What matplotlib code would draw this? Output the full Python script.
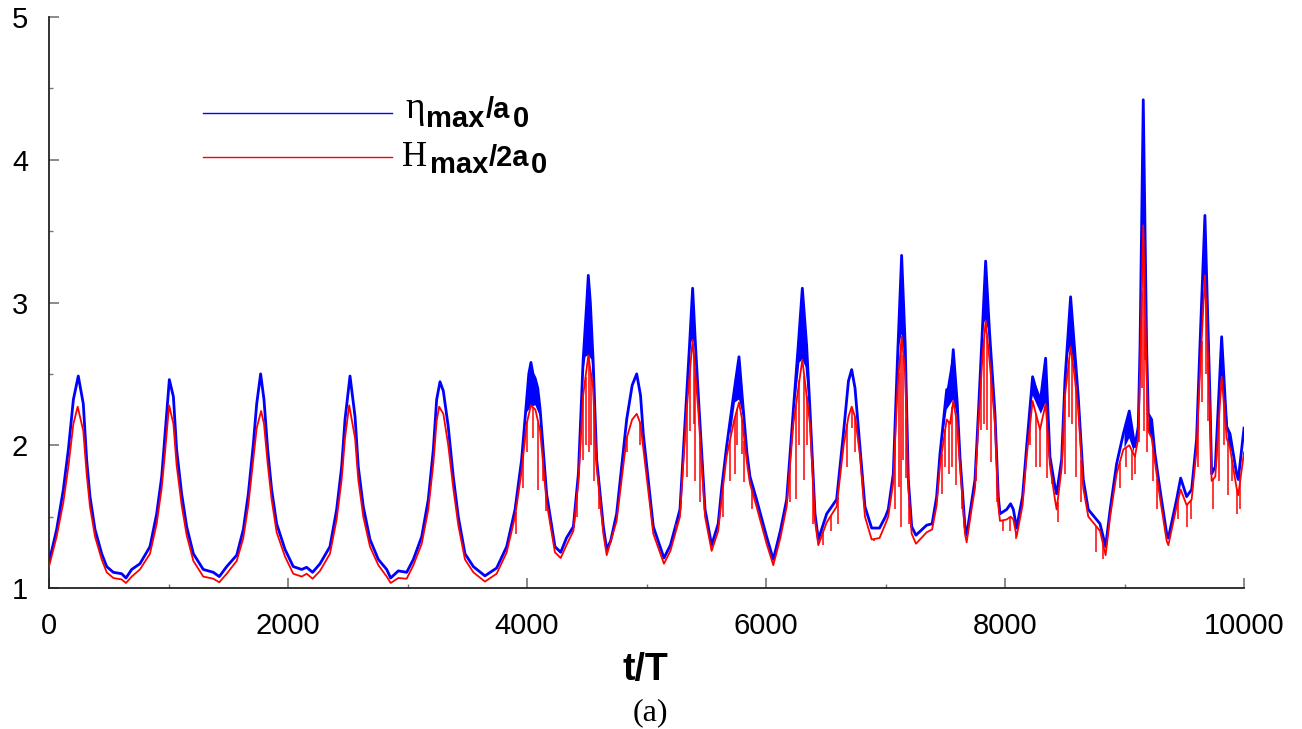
import numpy as np
import matplotlib
matplotlib.use("Agg")
import matplotlib.pyplot as plt
from matplotlib.ticker import MultipleLocator

plt.rcParams['font.family'] = ['Liberation Sans', 'DejaVu Sans']

# eta_max / a0 (upper envelope of the blue curve)
blue_t = [0, 64, 120, 162, 204, 245, 287, 315, 343, 385, 441, 483, 538, 608, 644, 692, 761, 845, 901, 943,
          971, 1007, 1041, 1068, 1110, 1152, 1208, 1291, 1375, 1425, 1487, 1571, 1626, 1668, 1710, 1738, 1771,
          1799, 1830, 1863, 1905, 1975, 2044, 2115, 2156, 2206, 2268, 2351, 2407, 2449, 2477, 2519, 2561, 2588,
          2630, 2686, 2756, 2826, 2859, 2923, 2993, 3049, 3119, 3174, 3216, 3244, 3272, 3300, 3341, 3383, 3425,
          3481, 3551, 3648, 3746, 3830, 3900, 3955, 3990, 4015, 4033, 4050, 4068, 4090, 4110, 4164, 4234, 4282,
          4330, 4388, 4430, 4470, 4500, 4513, 4530, 4553, 4583, 4639, 4667, 4700, 4750, 4834, 4880, 4918, 4950,
          4973, 5057, 5146, 5200, 5280, 5336, 5360, 5386, 5410, 5433, 5490, 5545, 5600, 5628, 5670, 5735, 5774,
          5800, 5840, 5866, 5921, 6005, 6061, 6120, 6173, 6229, 6270, 6304, 6340, 6368, 6410, 6438, 6508, 6591,
          6650, 6690, 6717, 6745, 6786, 6828, 6884, 6950, 7000, 7023, 7065, 7100, 7135, 7165, 7191, 7219, 7255,
          7344, 7390, 7428, 7456, 7512, 7540, 7567, 7600, 7623, 7665, 7679, 7720, 7749, 7777, 7810, 7838, 7870,
          7916, 7944, 7958, 8014, 8047, 8070, 8097, 8147, 8181, 8231, 8293, 8340, 8376, 8418, 8432, 8474, 8502,
          8549, 8580, 8613, 8655, 8697, 8795, 8842, 8880, 8934, 8990, 9040, 9087, 9115, 9130, 9157, 9185, 9199,
          9227, 9255, 9297, 9353, 9367, 9436, 9470, 9520, 9562, 9603, 9631, 9673, 9715, 9729, 9760, 9813, 9855,
          9883, 9938, 9952, 10000]
blue_y = [1.18, 1.41, 1.69, 1.97, 2.32, 2.485, 2.29, 1.90, 1.64, 1.41, 1.24, 1.15, 1.11, 1.10, 1.07, 1.13, 1.17,
          1.29, 1.52, 1.78, 2.08, 2.46, 2.34, 1.97, 1.66, 1.43, 1.24, 1.13, 1.11, 1.08, 1.15, 1.23, 1.41, 1.66,
          2.01, 2.29, 2.50, 2.32, 1.97, 1.69, 1.45, 1.27, 1.15, 1.13, 1.145, 1.11, 1.17, 1.29, 1.55, 1.85, 2.18,
          2.485, 2.20, 1.85, 1.57, 1.34, 1.20, 1.13, 1.07, 1.12, 1.11, 1.20, 1.36, 1.62, 1.97, 2.32, 2.445, 2.38,
          2.13, 1.78, 1.50, 1.24, 1.15, 1.085, 1.14, 1.29, 1.55, 1.90, 2.25, 2.50, 2.58, 2.50, 2.47, 2.40, 2.25,
          1.66, 1.29, 1.25, 1.35, 1.43, 1.80, 2.60, 3.00, 3.19, 3.00, 2.60, 1.90, 1.43, 1.27, 1.33, 1.52, 2.18,
          2.42, 2.50, 2.35, 2.08, 1.43, 1.21, 1.30, 1.55, 2.36, 2.70, 3.10, 2.70, 2.36, 1.55, 1.30, 1.45, 1.69,
          1.99, 2.39, 2.62, 2.35, 1.95, 1.78, 1.62, 1.36, 1.20, 1.40, 1.62, 2.25, 2.70, 3.10, 2.70, 2.25, 1.52,
          1.34, 1.52, 1.62, 2.10, 2.45, 2.53, 2.40, 1.99, 1.57, 1.42, 1.42, 1.50, 1.55, 1.80, 2.60, 3.33, 2.70,
          1.76, 1.43, 1.37, 1.44, 1.45, 1.64, 1.94, 2.39, 2.35, 2.67, 2.30, 1.92, 1.43, 1.37, 1.60, 1.76, 2.22,
          2.80, 3.29, 2.80, 2.22, 1.64, 1.52, 1.55, 1.59, 1.55, 1.42, 1.64, 1.99, 2.48, 2.29, 2.61, 1.92, 1.71,
          1.66, 1.90, 2.46, 3.04, 2.70, 2.34, 1.76, 1.55, 1.45, 1.29, 1.55, 1.87, 2.08, 2.24, 1.99, 2.13, 2.69,
          4.42, 2.69, 2.22, 2.18, 1.94, 1.69, 1.38, 1.35, 1.62, 1.77, 1.64, 1.69, 2.04, 2.69, 3.61, 2.34, 1.80,
          1.85, 2.76, 2.13, 2.08, 1.80, 1.76, 2.12]

# lower edge of the dense blue oscillation near the peaks (nan = no band)
band_t = [3990, 4033, 4070, 4110, 4200,
          4460, 4490, 4513, 4540, 4560, 4600,
          5345, 5370, 5386, 5405, 5425, 5500,
          5700, 5740, 5774, 5810, 5840, 5900,
          6245, 6280, 6304, 6330, 6360, 6400,
          7080, 7115, 7135, 7160, 7185, 7300,
          7470, 7512, 7567, 7600, 7620, 7700,
          7790, 7820, 7838, 7860, 7900, 8000,
          8200, 8231, 8300, 8340, 8370, 8450,
          8505, 8530, 8549, 8570, 8600, 8700,
          9000, 9040, 9080, 9100,
          9135, 9150, 9157, 9170, 9185, 9205, 9227, 9250, 9400,
          9640, 9660, 9673, 9690, 9712, 9770,
          9790, 9813, 9840, 9870, 9900]
band_lo = [2.22, 2.27, 2.28, 2.20, np.nan,
           2.45, 2.62, 2.63, 2.60, 2.40, np.nan,
           2.35, 2.72, 2.74, 2.70, 2.38, np.nan,
           2.05, 2.30, 2.32, 2.20, 1.90, np.nan,
           2.30, 2.58, 2.60, 2.55, 2.28, np.nan,
           2.00, 2.70, 2.78, 2.60, 1.85, np.nan,
           2.00, 2.25, 2.32, 2.20, 1.95, np.nan,
           2.40, 2.85, 2.88, 2.80, 2.35, np.nan,
           2.15, 2.35, 2.22, 2.30, 2.00, np.nan,
           2.40, 2.65, 2.69, 2.60, 2.38, np.nan,
           1.98, 2.05, 1.95, np.nan,
           2.70, 3.45, 3.51, 3.30, 2.70, 2.10, 2.05, 1.90, np.nan,
           2.70, 3.15, 3.19, 2.90, 2.30, np.nan,
           2.40, 2.48, 2.30, 2.00, 1.95]

# H_max / 2a0 (upper envelope of the red curve)
red_t = [0, 64, 120, 162, 204, 240, 287, 315, 343, 385, 441, 483, 538, 608, 644, 692, 761, 845, 901, 943,
         971, 1005, 1041, 1068, 1110, 1152, 1208, 1291, 1375, 1425, 1487, 1571, 1626, 1668, 1710, 1738, 1775,
         1799, 1830, 1863, 1905, 1975, 2044, 2115, 2156, 2206, 2268, 2351, 2407, 2449, 2477, 2512, 2561, 2588,
         2630, 2686, 2756, 2826, 2859, 2923, 2993, 3049, 3119, 3174, 3216, 3244, 3265, 3300, 3341, 3383, 3425,
         3481, 3551, 3648, 3746, 3830, 3900, 3955, 3997, 4033, 4070, 4110, 4164, 4234, 4282, 4330, 4388, 4430,
         4470, 4513, 4553, 4583, 4639, 4667, 4750, 4834, 4880, 4918, 4950, 4973, 5057, 5146, 5200, 5280, 5336,
         5386, 5433, 5490, 5545, 5600, 5628, 5670, 5735, 5774, 5800, 5840, 5866, 5921, 6005, 6061, 6120, 6173,
         6229, 6304, 6368, 6410, 6438, 6508, 6591, 6650, 6690, 6717, 6745, 6786, 6828, 6884, 6950, 7000, 7023,
         7065, 7100, 7135, 7165, 7191, 7219, 7255, 7344, 7390, 7428, 7456, 7512, 7540, 7567, 7600, 7623, 7665,
         7679, 7720, 7749, 7777, 7810, 7838, 7870, 7916, 7944, 7958, 8014, 8047, 8070, 8097, 8147, 8181, 8231,
         8293, 8340, 8376, 8418, 8432, 8474, 8502, 8549, 8580, 8613, 8655, 8697, 8795, 8842, 8880, 8934, 8990,
         9040, 9087, 9115, 9130, 9157, 9185, 9199, 9227, 9255, 9297, 9353, 9367, 9436, 9470, 9520, 9562, 9603,
         9631, 9673, 9715, 9729, 9760, 9813, 9855, 9883, 9938, 9952, 10000]
red_y = [1.15, 1.36, 1.60, 1.85, 2.15, 2.27, 2.10, 1.80, 1.57, 1.36, 1.20, 1.11, 1.07, 1.06, 1.035, 1.08, 1.13,
         1.24, 1.45, 1.70, 1.95, 2.28, 2.15, 1.86, 1.58, 1.37, 1.19, 1.08, 1.065, 1.04, 1.10, 1.19, 1.35, 1.58,
         1.90, 2.12, 2.24, 2.15, 1.87, 1.62, 1.39, 1.22, 1.10, 1.08, 1.10, 1.065, 1.12, 1.24, 1.48, 1.76, 2.05,
         2.28, 2.05, 1.76, 1.50, 1.29, 1.16, 1.08, 1.035, 1.07, 1.065, 1.16, 1.31, 1.55, 1.87, 2.17, 2.27, 2.22,
         2.00, 1.70, 1.44, 1.20, 1.11, 1.045, 1.10, 1.25, 1.50, 1.82, 2.15, 2.28, 2.25, 2.10, 1.60, 1.25, 1.21,
         1.30, 1.40, 1.74, 2.35, 2.63, 2.40, 1.85, 1.38, 1.23, 1.47, 2.05, 2.18, 2.22, 2.15, 1.98, 1.38, 1.17,
         1.26, 1.50, 2.25, 2.74, 2.25, 1.50, 1.26, 1.40, 1.62, 1.92, 2.18, 2.30, 2.18, 1.88, 1.73, 1.57, 1.31,
         1.16, 1.35, 1.57, 2.15, 2.60, 2.15, 1.47, 1.30, 1.46, 1.57, 2.00, 2.20, 2.27, 2.20, 1.93, 1.50, 1.34,
         1.35, 1.45, 1.50, 1.74, 2.40, 2.76, 2.50, 1.70, 1.38, 1.31, 1.39, 1.41, 1.58, 1.86, 2.18, 2.15, 2.31,
         2.15, 1.86, 1.38, 1.32, 1.55, 1.70, 2.15, 2.60, 2.87, 2.60, 2.15, 1.58, 1.47, 1.48, 1.50, 1.48, 1.36,
         1.58, 1.92, 2.31, 2.11, 2.29, 1.86, 1.62, 1.55, 1.84, 2.35, 2.69, 2.50, 2.25, 1.70, 1.50, 1.40, 1.23,
         1.50, 1.80, 1.97, 2.00, 1.92, 2.05, 2.50, 3.54, 2.50, 2.10, 2.05, 1.88, 1.63, 1.33, 1.30, 1.57, 1.69,
         1.58, 1.62, 1.97, 2.50, 3.19, 2.25, 1.75, 1.78, 2.48, 2.05, 1.98, 1.70, 1.65, 1.95]

# downward spikes of the red curve: time and tip value
spike_t = [3905, 3970, 4003, 4050, 4095, 4130, 4159, 4193,
           4420, 4470, 4490, 4515, 4535, 4560, 4600,
           4840, 4945,
           5250, 5340, 5365, 5395, 5410, 5450,
           5640, 5700, 5740, 5760, 5800, 5820, 5880,
           6200, 6250, 6280, 6320, 6340, 6390, 6480, 6540, 6600,
           6680, 6720, 6745, 6800, 6900, 6960,
           7080, 7110, 7130, 7150, 7175, 7200,
           7470, 7500, 7530, 7560, 7590, 7640,
           7760, 7800, 7825, 7850, 7880, 7930, 7980, 8040, 8090,
           8160, 8210, 8260, 8290, 8350, 8390, 8440,
           8500, 8535, 8560, 8590, 8640, 8760, 8820,
           8960, 9010, 9060, 9090,
           9120, 9145, 9165, 9175, 9190, 9240, 9275,
           9450, 9520, 9560,
           9615, 9645, 9680, 9700, 9740,
           9790, 9830, 9870, 9900, 9940, 9970]
spike_lo = [1.38, 1.70, 1.95, 2.05, 1.69, 1.75, 1.54, 1.45,
            1.50, 1.90, 2.00, 1.95, 2.00, 1.75, 1.55,
            1.95, 2.00,
            1.45, 1.78, 2.10, 2.15, 1.75, 1.60,
            1.50, 1.75, 1.80, 2.00, 1.94, 1.74, 1.55,
            1.60, 1.62, 2.00, 1.76, 2.00, 1.45, 1.30, 1.40, 1.45,
            1.85, 2.12, 1.95, 1.75, 1.33, 1.37,
            1.55, 1.71, 1.43, 1.90, 1.77, 1.45,
            1.66, 1.85, 1.80, 1.85, 1.72, 1.55,
            1.75, 2.11, 2.15, 2.11, 1.88, 1.60, 1.40, 1.40, 1.34,
            1.71, 2.00, 1.85, 1.85, 1.77, 1.73, 1.46,
            1.80, 2.20, 2.15, 1.78, 1.60, 1.25, 1.20,
            1.70, 1.85, 1.76, 1.80,
            2.02, 2.40, 2.10, 2.60, 1.95, 1.75, 1.55,
            1.48, 1.43, 1.48,
            1.85, 2.30, 2.50, 2.17, 1.55,
            1.75, 2.00, 1.65, 1.75, 1.52, 1.55]

x_ticks = [0, 2000, 4000, 6000, 8000, 10000]
y_ticks = [1, 2, 3, 4, 5]

W, H = 1302, 729
fig = plt.figure(figsize=(W / 100, H / 100), dpi=100)
ax = fig.add_axes([49 / W, 141 / H, 1195 / W, 571 / H])

blue = '#0000ff'
red = '#ff0000'

ax.plot(blue_t, blue_y, color=blue, lw=2.0, zorder=2)
band_hi = np.interp(band_t, blue_t, blue_y)
ax.fill_between(band_t, band_lo, band_hi, color=blue, lw=0, zorder=2)

ax.plot(red_t, red_y, color=red, lw=1.3, zorder=3)
spike_top = np.interp(spike_t, red_t, red_y)
ax.vlines(spike_t, spike_lo, spike_top, color=red, lw=1.1, zorder=3)

ax.set_xlim(0, 10000)
ax.set_ylim(1, 5)
ax.set_xticks(x_ticks)
ax.set_yticks(y_ticks)
ax.xaxis.set_minor_locator(MultipleLocator(1000))
ax.yaxis.set_minor_locator(MultipleLocator(0.5))

for s in ['top', 'right']:
    ax.spines[s].set_visible(False)
for s in ['left', 'bottom']:
    ax.spines[s].set_linewidth(1.3)
    ax.spines[s].set_color('#222222')

ax.tick_params(axis='x', which='major', direction='in', length=7, width=1.2, color='#777777',
               labelsize=21, pad=17)
ax.tick_params(axis='y', which='major', direction='in', length=7, width=1.2, color='#777777',
               labelsize=21, pad=15)
ax.tick_params(which='minor', direction='in', length=3, width=1.0, color='#777777')

# legend drawn by hand, as in the original
ax.plot([0.129, 0.287], [0.832, 0.832], transform=ax.transAxes, color=blue, lw=1.0, clip_on=False)
ax.plot([0.129, 0.287], [0.755, 0.755], transform=ax.transAxes, color=red, lw=1.0, clip_on=False)


def put(px, py, s, **kw):
    fig.text(px / W, 1 - py / H, s, va='baseline', ha='left', **kw)


sans = dict(family='Liberation Sans', fontsize=21, fontweight='bold')

put(405, 118, '\u03b7', family='Liberation Serif', fontsize=27)
put(426, 127, 'max', **sans)
put(486, 118, '/a', **sans)
put(513, 127, '0', **sans)

put(402, 166, 'H', family='Liberation Serif', fontsize=25)
put(430, 173, 'max', **sans)
put(489, 166, '/2a', **sans)
put(531, 173, '0', **sans)

fig.text(645 / W, 1 - 680 / H, 't/T', ha='center', va='baseline', fontsize=27, fontweight='bold')
fig.text(650 / W, 1 - 720 / H, '(a)', ha='center', va='baseline', family='Liberation Serif', fontsize=23)

fig.savefig('out.png', dpi=100)
